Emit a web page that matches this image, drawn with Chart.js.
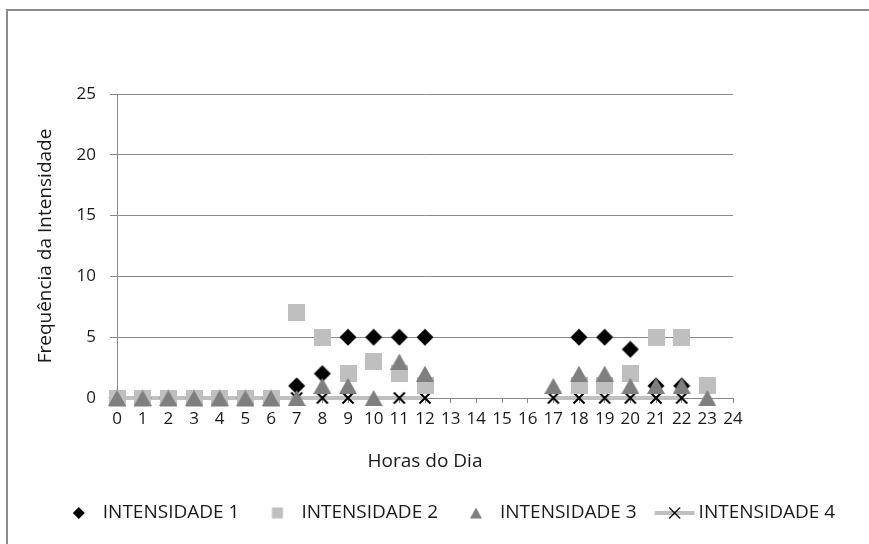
<!DOCTYPE html>
<html><head><meta charset="utf-8">
<script src="https://cdn.jsdelivr.net/npm/chart.js@4/dist/chart.umd.min.js"></script>
<style>
html,body{margin:0;padding:0;background:#fff;}
#wrap{position:relative;width:869px;height:544px;overflow:hidden;background:#fff;}
#frame{position:absolute;left:6px;top:9px;right:-10px;bottom:-10px;border-top:2px solid #8c8c8c;border-left:2px solid #8c8c8c;}
canvas{position:absolute;left:0;top:0;}
</style></head><body>
<div id="wrap"><div id="frame"></div><canvas id="c" width="869" height="544"></canvas></div>
<script>
// Data (hours of day 0..23; null = no point)
const horas = [0,1,2,3,4,5,6,7,8,9,10,11,12,13,14,15,16,17,18,19,20,21,22,23];
const intensidade1 = [0,0,0,0,0,0,0,1,2,5,5,5,5,null,null,null,null,null,5,5,4,1,1,null];
const intensidade2 = [0,0,0,0,0,0,0,7,5,2,3,2,1,null,null,null,null,null,1,1,2,5,5,1];
const intensidade3 = [0,0,0,0,0,0,0,0,1,1,0,3,2,null,null,null,null,1,2,2,1,1,1,0];
const intensidade4 = [0,0,0,0,0,0,0,0,0,0,null,0,0,null,null,null,null,0,0,0,0,0,0,null];
const serieNomes = ['INTENSIDADE 1','INTENSIDADE 2','INTENSIDADE 3','INTENSIDADE 4'];
const xTitulo = 'Horas do Dia';
const yTitulo = 'Frequência da Intensidade';

function pts(arr){ return horas.map((h,i)=>({x:h,y:arr[i]})).filter(p=>p.y!==null); }

function mk(w,h,fn){const c=document.createElement('canvas');c.width=w;c.height=h;const g=c.getContext('2d');fn(g,w,h);return c;}
const C1='#000000', C2='#bfbfbf', C3='#7f7f7f', C4L='#c0c0c0';
function diamondPath(g,cx,cy,r){g.beginPath();g.moveTo(cx,cy-r);g.lineTo(cx+r,cy);g.lineTo(cx,cy+r);g.lineTo(cx-r,cy);g.closePath();}
function triPath(g,cx,cy,w,h){g.beginPath();g.moveTo(cx,cy-h/2);g.lineTo(cx+w/2,cy+h/2);g.lineTo(cx-w/2,cy+h/2);g.closePath();}
function crossPath(g,cx,cy,r){g.beginPath();g.moveTo(cx-r,cy-r);g.lineTo(cx+r,cy+r);g.moveTo(cx+r,cy-r);g.lineTo(cx-r,cy+r);}

// plot markers
const mDiamond = mk(18,18,(g)=>{g.fillStyle=C1;diamondPath(g,9,9,8.5);g.fill();});
const mSquare = mk(17,17,(g)=>{g.fillStyle=C2;g.fillRect(0,0,17,17);});
const mTri = mk(18,16,(g)=>{g.fillStyle=C3;triPath(g,9,8,18,16);g.fill();});
const mCross = mk(14,14,(g)=>{g.strokeStyle='#000';g.lineWidth=2;crossPath(g,7,7,5.5);g.stroke();});

// legend markers (drawn right of centre so text gap matches)
const LW=60, LH=20, LC=37.75;
const lDiamond = mk(LW,LH,(g)=>{g.fillStyle=C1;diamondPath(g,LC,10,6);g.fill();});
const lSquare = mk(LW,LH,(g)=>{g.fillStyle=C2;g.fillRect(LC-5.5,4.5,11,11);});
const lTri = mk(LW,LH,(g)=>{g.fillStyle=C3;triPath(g,LC,10,12,11);g.fill();});
const lLine = mk(LW,LH,(g)=>{g.strokeStyle=C4L;g.lineWidth=4;g.beginPath();g.moveTo(LC-20,10);g.lineTo(LC+20,10);g.stroke();
  g.strokeStyle='#000';g.lineWidth=1.2;crossPath(g,LC,10,5.5);g.stroke();});
const legendImgs=[lDiamond,lSquare,lTri,lLine];

const gridColor='#8a8a8a';
const textColor='#1a1a1a';
const FONT='"Open Sans", sans-serif';

new Chart(document.getElementById('c'),{
  type:'line',
  data:{datasets:[
    {label:serieNomes[0],data:pts(intensidade1),showLine:false,pointStyle:mDiamond,pointRadius:8,order:3,clip:false},
    {label:serieNomes[1],data:pts(intensidade2),showLine:false,pointStyle:mSquare,pointRadius:8,order:2,clip:false},
    {label:serieNomes[2],data:pts(intensidade3),showLine:false,pointStyle:mTri,pointRadius:8,order:1,clip:false},
    {label:serieNomes[3],data:pts(intensidade4),showLine:true,spanGaps:2,borderColor:C4L,borderWidth:4,pointStyle:mCross,pointRadius:6,order:4,clip:false}
  ]},
  options:{
    responsive:false,animation:false,events:[],
    layout:{padding:{left:32,right:17,top:94,bottom:11.5}},
    plugins:{
      tooltip:{enabled:false},
      legend:{position:'bottom',align:'center',
        labels:{usePointStyle:true,pointStyleWidth:44.5,padding:8,color:textColor,font:{family:FONT,size:19},
          generateLabels:(chart)=>serieNomes.map((t,i)=>({text:t,pointStyle:legendImgs[i],datasetIndex:i,fillStyle:'rgba(0,0,0,0)',strokeStyle:'rgba(0,0,0,0)',lineWidth:0,hidden:false,fontColor:textColor}))
        }}
    },
    scales:{
      x:{type:'linear',min:0,max:24,
        grid:{drawOnChartArea:false,drawTicks:true,tickLength:5,color:gridColor},
        border:{display:true,color:gridColor,width:1},
        ticks:{stepSize:1,autoSkip:false,maxRotation:0,padding:6,color:textColor,font:{family:FONT,size:17}},
        title:{display:true,text:xTitulo,color:textColor,font:{family:FONT,size:19},padding:{top:0,bottom:23}},
        afterFit:(s)=>{s.height=97.5;}
      },
      y:{min:0,max:25,
        grid:{drawOnChartArea:true,drawTicks:true,tickLength:7,color:gridColor},
        border:{display:true,color:gridColor,width:1},
        ticks:{stepSize:5,padding:14,color:textColor,font:{family:FONT,size:17}},
        title:{display:true,text:yTitulo,color:textColor,font:{family:FONT,size:19},padding:{top:2.6,bottom:0}},
        afterFit:(s)=>{s.width=85;}
      },
      yR:{position:'right',display:true,grid:{display:false,drawTicks:false},border:{display:false},ticks:{display:false},
        afterFit:(s)=>{s.width=869-17-733;}
      }
    }
  }
});
</script>
</body></html>
